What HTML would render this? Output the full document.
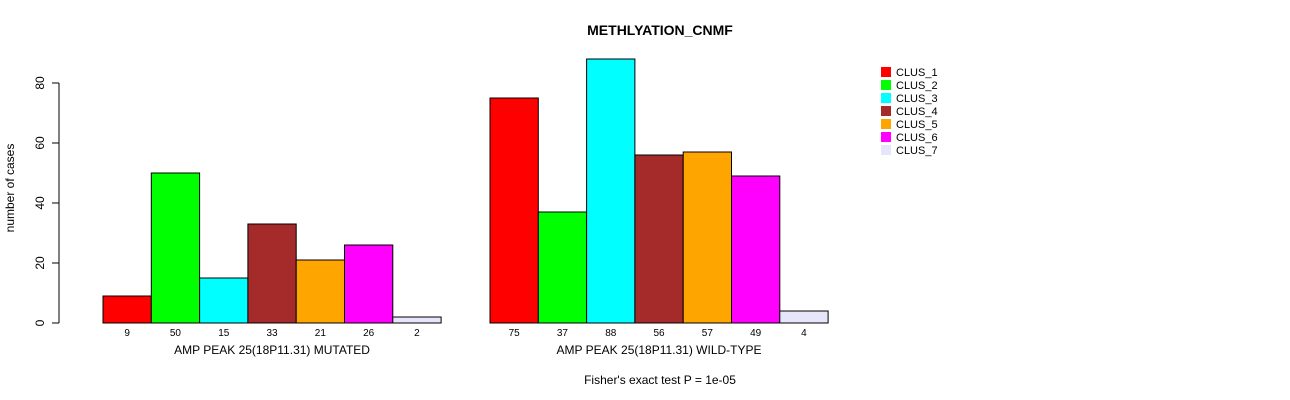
<!DOCTYPE html>
<html><head><meta charset="utf-8"><style>
body{margin:0;background:#fff}
svg{display:block;font-family:"Liberation Sans",sans-serif}
</style></head><body>
<svg id="chart" width="1290" height="400" xmlns="http://www.w3.org/2000/svg">
<text x="660" y="35" text-anchor="middle" font-size="14" font-weight="bold">METHLYATION_CNMF</text>
<text transform="translate(14,188) rotate(-90)" text-anchor="middle" font-size="12">number of cases</text>
<text x="660" y="384" text-anchor="middle" font-size="12">Fisher's exact test P = 1e-05</text>
<g id="axis"></g><g id="bars"></g><g id="legend"></g>
</svg>
<script>
const clusters=["CLUS_1","CLUS_2","CLUS_3","CLUS_4","CLUS_5","CLUS_6","CLUS_7"];
const colors=["#ff0000","#00ff00","#00ffff","#a52a2a","#ffa500","#ff00ff","#e6e6fa"];
const groups=["AMP PEAK 25(18P11.31) MUTATED","AMP PEAK 25(18P11.31) WILD-TYPE"];
const mutatedValues=[9,50,15,33,21,26,2];
const wildtypeValues=[75,37,88,56,57,49,4];
const yTicks=[0,20,40,60,80];
const NS="http://www.w3.org/2000/svg";
const y0=323, yScale=3.0;
function y(v){return y0-v*yScale;}
const groupStart=[103,490], barW=48.3;
function mk(t,a,parent){const e=document.createElementNS(NS,t);for(const k in a)e.setAttribute(k,a[k]);parent.appendChild(e);return e;}
const ax=document.getElementById('axis');
let l=mk('line',{x1:59,x2:59,y1:y(80),y2:y(0),stroke:'#000'},ax);


yTicks.forEach(t=>{
 const tk=mk('line',{x1:52,x2:59,y1:y(t),y2:y(t),stroke:'#000'},ax);
 
 
 const tx=mk('text',{transform:`translate(44,${y(t)}) rotate(-90)`,'text-anchor':'middle','font-size':12},ax);
 tx.textContent=t;
 
 
});
const bg=document.getElementById('bars');
[mutatedValues,wildtypeValues].forEach((vals,g)=>{
 vals.forEach((v,i)=>{
  const x=groupStart[g]+i*barW;
  const r=mk('rect',{x:x,y:y(v),width:barW,height:v*yScale,fill:colors[i],stroke:'#000','stroke-width':1},bg);
  
  
  const t=mk('text',{x:x+barW/2,y:336,'text-anchor':'middle','font-size':10},bg);
  t.textContent=v;
  
  
 });
 const gl=mk('text',{x:groupStart[g]+barW*3.5,y:354,'text-anchor':'middle','font-size':12},bg);
 gl.textContent=groups[g];
 
 
});
const lg=document.getElementById('legend');
clusters.forEach((c,i)=>{
 const yy=67+i*13;
 const r=mk('rect',{x:881,y:yy,width:10,height:10,fill:colors[i]},lg);
 
 
 const t=mk('text',{x:896,y:yy+9,'font-size':11},lg);
 t.textContent=c;
 
 
});
</script>
</body></html>
